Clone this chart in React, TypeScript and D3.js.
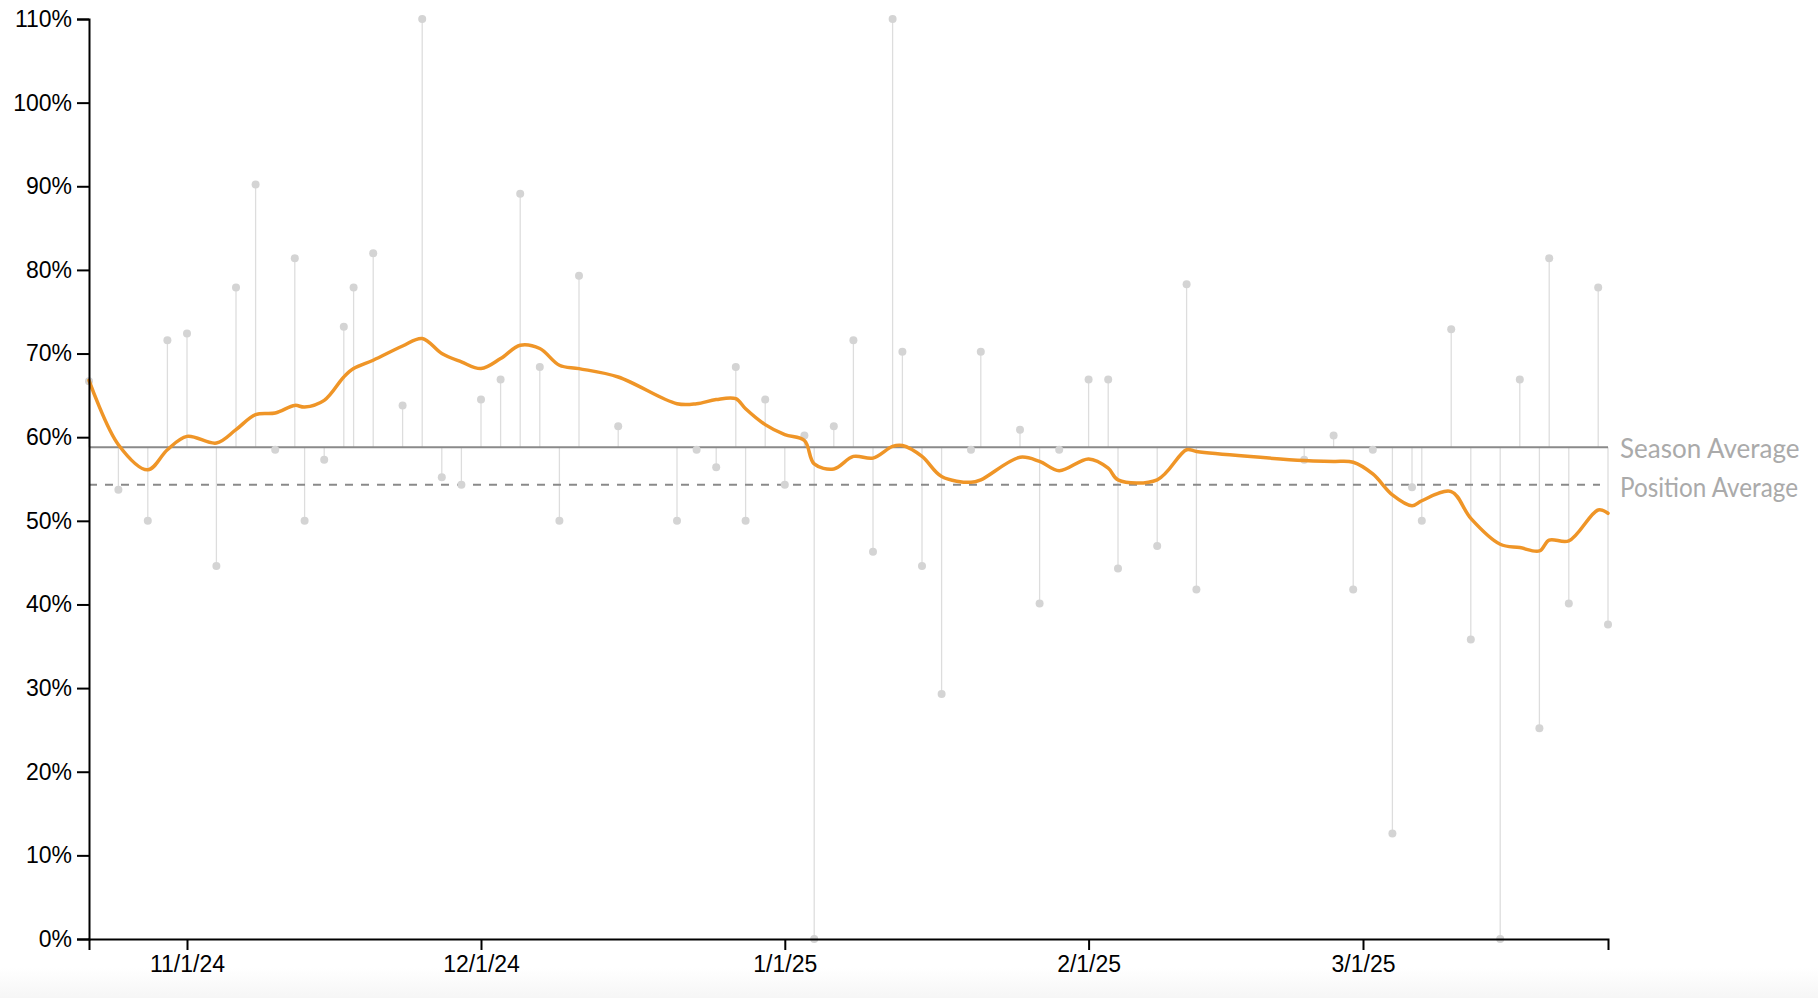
import React, { useEffect, useRef } from 'react';
import * as d3 from 'd3';

// one entry per game
const gameDates = [
  '2024-10-22', '2024-10-25', '2024-10-28', '2024-10-30', '2024-11-01', '2024-11-04', '2024-11-06',
  '2024-11-08', '2024-11-10', '2024-11-12', '2024-11-13', '2024-11-15', '2024-11-17', '2024-11-18',
  '2024-11-20', '2024-11-23', '2024-11-25', '2024-11-27', '2024-11-29', '2024-12-01', '2024-12-03',
  '2024-12-05', '2024-12-07', '2024-12-09', '2024-12-11', '2024-12-15', '2024-12-21', '2024-12-23',
  '2024-12-25', '2024-12-27', '2024-12-28', '2024-12-30', '2025-01-01', '2025-01-03', '2025-01-04',
  '2025-01-06', '2025-01-08', '2025-01-10', '2025-01-12', '2025-01-13', '2025-01-15', '2025-01-17',
  '2025-01-20', '2025-01-21', '2025-01-25', '2025-01-27', '2025-01-29', '2025-02-01', '2025-02-03',
  '2025-02-04', '2025-02-08', '2025-02-11', '2025-02-12', '2025-02-23', '2025-02-26', '2025-02-28',
  '2025-03-02', '2025-03-04', '2025-03-06', '2025-03-07', '2025-03-10', '2025-03-12', '2025-03-15',
  '2025-03-17', '2025-03-19', '2025-03-20', '2025-03-22', '2025-03-25', '2025-03-26'
];

// game percentage (the grey lollipops)
const gamePct = [
  66.7, 53.7, 50, 71.6, 72.4, 44.6, 77.9, 90.2, 58.5, 81.4,
  50, 57.3, 73.2, 77.9, 82.0, 63.8, 110, 55.2, 54.3, 64.5,
  66.9, 89.1, 68.4, 50, 79.3, 61.3, 50, 58.5, 56.4, 68.4,
  50, 64.5, 54.3, 60.2, 0, 61.3, 71.6, 46.3, 110, 70.2,
  44.6, 29.3, 58.5, 70.2, 60.9, 40.1, 58.5, 66.9, 66.9, 44.3,
  47.0, 78.3, 41.8, 57.3, 60.2, 41.8, 58.5, 12.6, 54.0, 50,
  72.9, 35.8, 0, 66.9, 25.2, 81.4, 40.1, 77.9, 37.6
];

// smoothed trend (orange line), value at each game date
const trendPct = [
  66.8, 59.1, 56.1, 58.5, 60.1, 59.3, 60.9, 62.7, 62.9, 63.8,
  63.6, 64.4, 67.2, 68.2, 69.2, 70.9, 71.8, 70.0, 69.0, 68.2,
  69.4, 71.0, 70.6, 68.6, 68.2, 67.2, 64.0, 64.0, 64.5, 64.6,
  63.4, 61.5, 60.3, 59.6, 56.8, 56.2, 57.7, 57.5, 58.9, 59.0,
  57.7, 55.3, 54.6, 54.9, 57.6, 57.1, 56.0, 57.4, 56.3, 54.9,
  54.9, 58.5, 58.3, 57.2, 57.1, 57.0, 55.6, 53.1, 51.8, 52.4,
  53.5, 50.3, 47.2, 46.8, 46.4, 47.7, 47.6, 51.3, 50.9
];

const seasonAverage = 58.8;
const positionAverage = 54.3;

const yTicks = [0, 10, 20, 30, 40, 50, 60, 70, 80, 90, 100, 110];
const xTickDates = ['2024-11-01', '2024-12-01', '2025-01-01', '2025-02-01', '2025-03-01'];

const width = 1818;
const height = 998;
const marginTop = 19;
const marginRight = 210;
const marginBottom = 59;
const marginLeft = 89;

const axisFont = '"Liberation Sans", Arial, Helvetica, sans-serif';

const parseDate = d3.timeParse('%Y-%m-%d');

export default function App() {
  const gx = useRef<SVGGElement | null>(null);
  const gy = useRef<SVGGElement | null>(null);

  const dates = gameDates.map(d => parseDate(d) as Date);

  const x = d3.scaleTime()
    .domain(d3.extent(dates) as [Date, Date])
    .range([marginLeft, width - marginRight]);

  const y = d3.scaleLinear()
    .domain([0, 110])
    .range([height - marginBottom, marginTop]);

  const trendLine = d3.line<number>()
    .x((d, i) => x(dates[i]))
    .y(d => y(d))
    .curve(d3.curveCatmullRom.alpha(0.5));

  useEffect(() => {
    if (gx.current) {
      const g = d3.select(gx.current);
      g.call(
        d3.axisBottom(x)
          .tickValues(xTickDates.map(d => parseDate(d) as Date))
          .tickFormat(d3.timeFormat('%-m/%-d/%y') as any)
          .tickSize(11)
          .tickPadding(6)
      );
      g.attr('font-size', 23).attr('font-family', axisFont);
      g.selectAll('path, line').attr('stroke', '#000').attr('stroke-width', 2);
      g.selectAll('text').attr('fill', '#000');
    }
    if (gy.current) {
      const g = d3.select(gy.current);
      g.call(
        d3.axisLeft(y)
          .tickValues(yTicks)
          .tickFormat(d => `${d}%`)
          .tickSize(12)
          .tickPadding(5)
      );
      g.attr('font-size', 23).attr('font-family', axisFont);
      g.selectAll('path, line').attr('stroke', '#000').attr('stroke-width', 2);
      g.selectAll('text').attr('fill', '#000');
    }
  }, [x, y]);

  const x0 = marginLeft;
  const x1 = width - marginRight;

  return (
    <svg width={width} height={height} style={{ position: 'absolute', left: 0, top: 0, background: '#fff' }}>
      <defs>
        <linearGradient id="fade" x1="0" y1="0" x2="0" y2="1">
          <stop offset="0%" stopColor="#fff" />
          <stop offset="100%" stopColor="#f6f6f6" />
        </linearGradient>
      </defs>
      <rect x={0} y={968} width={width} height={height - 968} fill="url(#fade)" />

      {/* stems from the season average to each game */}
      <g stroke="#dddddd" strokeWidth={1.3}>
        {gamePct.map((v, i) => (
          <line key={i} x1={x(dates[i])} x2={x(dates[i])} y1={y(seasonAverage)} y2={y(v)} />
        ))}
      </g>

      {/* average lines */}
      <line x1={x0} x2={x1} y1={y(seasonAverage)} y2={y(seasonAverage)} stroke="#8a8a8a" strokeWidth={2} />
      <line x1={x0} x2={x1 - 8} y1={y(positionAverage)} y2={y(positionAverage)} stroke="#8a8a8a" strokeWidth={2} strokeDasharray="8,8" />

      <g fill="#d4d4d4">
        {gamePct.map((v, i) => (
          <circle key={i} cx={x(dates[i])} cy={y(v)} r={4} />
        ))}
      </g>

      <path d={trendLine(trendPct) || ''} fill="none" stroke="#ef9527" strokeWidth={3.5} strokeLinejoin="round" strokeLinecap="round" />

      <g ref={gx} transform={`translate(0,${height - marginBottom})`} />
      <g ref={gy} transform={`translate(${marginLeft},0)`} />

      <g fill="#aaaaaa" fontFamily="Lato, 'Open Sans', sans-serif" fontSize={26}>
        <text x={x1 + 12} y={y(seasonAverage) + 11}>Season Average</text>
        <text x={x1 + 12} y={y(positionAverage) + 12} textLength={178} lengthAdjust="spacingAndGlyphs">Position Average</text>
      </g>
    </svg>
  );
}
